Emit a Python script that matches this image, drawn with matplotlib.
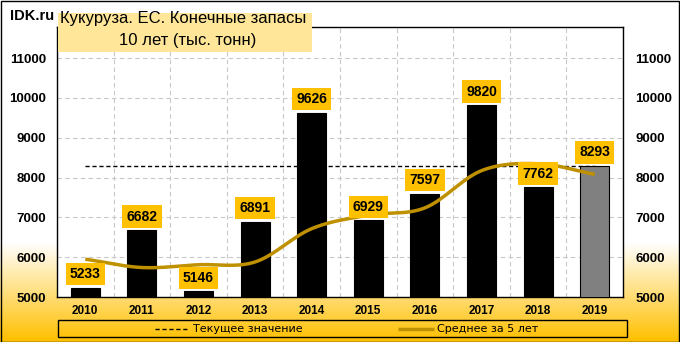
import numpy as np
import matplotlib
matplotlib.use("Agg")
import matplotlib.pyplot as plt
from matplotlib.colors import LinearSegmentedColormap
from matplotlib.patches import Rectangle
from matplotlib.lines import Line2D

years = ["2010", "2011", "2012", "2013", "2014", "2015", "2016", "2017", "2018", "2019"]
stocks = [5233, 6682, 5146, 6891, 9626, 6929, 7597, 9820, 7762, 8293]
avg5 = [5950, 5740, 5810, 5880, 6716, 7055, 7238, 8173, 8347, 8080]
current_value = 8293
yticks = [5000, 6000, 7000, 8000, 9000, 10000, 11000]

W, H = 680, 342
fig = plt.figure(figsize=(W / 100, H / 100), dpi=100)

def fx(px):
    return px / W

def fy(py):
    return 1 - py / H

# gradient background
bg = fig.add_axes([0, 0, 1, 1], zorder=-10)
bg.set_axis_off()
cmap = LinearSegmentedColormap.from_list(
    "g", [(0, "#FFFFFF"), (243 / 342, "#FFFFFF"), (1, "#FFC000")])
grad = np.linspace(0, 1, 400).reshape(-1, 1)
bg.imshow(grad, aspect="auto", cmap=cmap, extent=[0, 1, 0, 1], origin="upper")
bg.set_xlim(0, 1)
bg.set_ylim(0, 1)

left, right, top, bottom = 57, 623, 27, 297
ax = fig.add_axes([fx(left), fy(bottom), fx(right - left), (bottom - top) / H])
ax.set_facecolor("white")

x = np.arange(len(years))
colors = ["black"] * (len(years) - 1) + ["#808080"]
ax.bar(x, stocks, width=0.51, color=colors, edgecolor="black", linewidth=0.8, zorder=3)

# current value dashed line
ax.plot([x[0], x[-1]], [current_value, current_value], color="black",
        lw=1.0, dashes=(3, 2), zorder=2)

# smoothed 5-year average (Catmull-Rom rendering)
def catmull(xs, ys, n=30):
    xs = np.asarray(xs, float)
    ys = np.asarray(ys, float)
    px = np.concatenate([[2 * xs[0] - xs[1]], xs, [2 * xs[-1] - xs[-2]]])
    py = np.concatenate([[2 * ys[0] - ys[1]], ys, [2 * ys[-1] - ys[-2]]])
    ox, oy = [], []
    for i in range(1, len(px) - 2):
        t = np.linspace(0, 1, n, endpoint=False)
        for arr, out in ((px, ox), (py, oy)):
            p0, p1, p2, p3 = arr[i - 1], arr[i], arr[i + 1], arr[i + 2]
            out.extend(0.5 * ((2 * p1) + (-p0 + p2) * t +
                              (2 * p0 - 5 * p1 + 4 * p2 - p3) * t ** 2 +
                              (-p0 + 3 * p1 - 3 * p2 + p3) * t ** 3))
    ox.append(xs[-1])
    oy.append(ys[-1])
    return np.array(ox), np.array(oy)

sx, sy = catmull(x, avg5)
ax.plot(sx, sy, color="#BF9000", lw=2.5, zorder=4, solid_capstyle="butt")

ax.set_xlim(-0.5, len(years) - 0.5)
ax.set_ylim(5000, 11780)
ax.set_yticks(yticks)
ax.set_xticks(x)
ax.set_xticks(np.arange(len(years) + 1) - 0.5, minor=True)
ax.set_xticklabels(years, fontfamily="Liberation Sans", fontweight="bold", fontsize=8.5)
ax.set_yticklabels([str(v) for v in yticks], fontfamily="Liberation Sans",
                   fontweight="bold", fontsize=9.5)
ax.tick_params(axis="x", which="both", length=0, pad=6)
ax.tick_params(axis="y", length=0, pad=8)
ax.grid(axis="y", which="major", color="#C8C8C8", lw=0.8, dashes=(4, 3), zorder=0)
ax.grid(axis="x", which="minor", color="#C8C8C8", lw=0.8, dashes=(4, 3), zorder=0)
for s in ax.spines.values():
    s.set_color("black")
    s.set_linewidth(1.0)

ax2 = ax.twinx()
ax2.set_ylim(ax.get_ylim())
ax2.set_yticks(yticks)
ax2.set_yticklabels([str(v) for v in yticks], fontfamily="Liberation Sans",
                    fontweight="bold", fontsize=9.5)
ax2.tick_params(axis="y", length=0, pad=9)
for s in ax2.spines.values():
    s.set_visible(False)

# data labels
for xi, v in zip(x, stocks):
    ax.annotate(str(v), (xi, v), xytext=(0, 9.7), textcoords="offset points",
                ha="center", va="center", fontfamily="Liberation Sans",
                fontweight="bold", fontsize=10, zorder=6,
                bbox=dict(boxstyle="square,pad=0.3", fc="#FFC000", ec="none"))

# title box
fig.patches.append(Rectangle((fx(58), fy(52)), fx(312 - 58), (52 - 13) / H,
                             transform=fig.transFigure, fc="#FFE699", ec="none", zorder=5))
fig.text(fx(60), fy(18), "Кукуруза. ЕС. Конечные запасы", ha="left", va="center",
         fontfamily="Liberation Sans", fontsize=12, zorder=6)
fig.text(fx(188), fy(41), "10 лет (тыс. тонн)", ha="center", va="center",
         fontfamily="Liberation Sans", fontsize=12, zorder=6)
fig.text(fx(10), fy(16), "IDK.ru", ha="left", va="center",
         fontfamily="Liberation Sans", fontweight="bold", fontsize=10.5, zorder=6)

# legend
fig.patches.append(Rectangle((fx(58), fy(337)), fx(627 - 58), (337 - 320) / H,
                             transform=fig.transFigure, fc="none", ec="black", lw=1.0, zorder=5))
fig.lines.append(Line2D([fx(155), fx(188)], [fy(328.5)] * 2, transform=fig.transFigure,
                        color="black", lw=1.0, dashes=(3, 2), zorder=6))
fig.text(fx(193), fy(328.5), "Текущее значение", ha="left", va="center",
         fontfamily="DejaVu Sans", fontsize=8, zorder=6)
fig.lines.append(Line2D([fx(398), fx(434)], [fy(328.5)] * 2, transform=fig.transFigure,
                        color="#BF9000", lw=2.5, solid_capstyle="butt", zorder=6))
fig.text(fx(437), fy(328.5), "Среднее за 5 лет", ha="left", va="center",
         fontfamily="DejaVu Sans", fontsize=8, zorder=6)

# outer border
fig.patches.append(Rectangle((0.5 / W, 0.5 / H), 1 - 1.5 / W, 1 - 1.5 / H,
                             transform=fig.transFigure, fc="none", ec="black", lw=1.0, zorder=7))

fig.savefig("out.png", dpi=100)
